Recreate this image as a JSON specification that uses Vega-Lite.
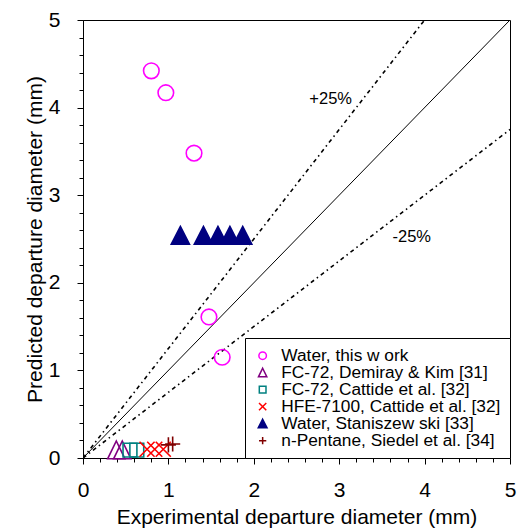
{
  "$schema": "https://vega.github.io/schema/vega-lite/v6.json",
  "autosize": {"type": "none"},
  "width": 427,
  "height": 438,
  "padding": {"left": 83, "top": 20, "right": 10, "bottom": 72},
  "config": {
    "font": "Liberation Sans",
    "view": {"stroke": "black", "strokeWidth": 1},
    "axis": {
      "domainColor": "black",
      "tickColor": "black",
      "labelColor": "black",
      "titleColor": "black",
      "grid": false
    },
    "legend": {
      "orient": "bottom-right",
      "offset": 0,
      "strokeColor": "black",
      "fillColor": "white",
      "padding": 9,
      "labelFont": "Liberation Sans",
      "labelFontSize": 17.3,
      "labelColor": "black",
      "symbolSize": 70,
      "symbolStrokeWidth": 1.5,
      "rowPadding": -1,
      "labelOffset": 10,
      "labelLimit": 400
    }
  },
  "datasets": {
    "pts": [
      {"series": "Water, this w ork", "exp": 0.80, "pred": 4.42},
      {"series": "Water, this w ork", "exp": 0.97, "pred": 4.17},
      {"series": "Water, this w ork", "exp": 1.30, "pred": 3.48},
      {"series": "Water, this w ork", "exp": 1.475, "pred": 1.61},
      {"series": "Water, this w ork", "exp": 1.63, "pred": 1.15},
      {"series": "FC-72, Demiray & Kim [31]", "exp": 0.39, "pred": 0.09},
      {"series": "FC-72, Demiray & Kim [31]", "exp": 0.46, "pred": 0.09},
      {"series": "FC-72, Cattide et al. [32]", "exp": 0.55, "pred": 0.09},
      {"series": "FC-72, Cattide et al. [32]", "exp": 0.63, "pred": 0.09},
      {"series": "HFE-7100, Cattide et al. [32]", "exp": 0.75, "pred": 0.10},
      {"series": "HFE-7100, Cattide et al. [32]", "exp": 0.84, "pred": 0.10},
      {"series": "HFE-7100, Cattide et al. [32]", "exp": 0.94, "pred": 0.10},
      {"series": "Water, Staniszew ski [33]", "exp": 1.14, "pred": 2.54},
      {"series": "Water, Staniszew ski [33]", "exp": 1.41, "pred": 2.54},
      {"series": "Water, Staniszew ski [33]", "exp": 1.58, "pred": 2.54},
      {"series": "Water, Staniszew ski [33]", "exp": 1.72, "pred": 2.54},
      {"series": "Water, Staniszew ski [33]", "exp": 1.87, "pred": 2.54},
      {"series": "n-Pentane, Siedel et al. [34]", "exp": 1.00, "pred": 0.15},
      {"series": "n-Pentane, Siedel et al. [34]", "exp": 1.05, "pred": 0.16}
    ],
    "equal": [
      {"exp": 0, "pred": 0},
      {"exp": 5, "pred": 5}
    ],
    "bands": [
      {"line": "+25%", "exp": 0, "pred": 0},
      {"line": "+25%", "exp": 4, "pred": 5},
      {"line": "-25%", "exp": 0, "pred": 0},
      {"line": "-25%", "exp": 5, "pred": 3.75}
    ],
    "labels": [
      {"text": "+25%", "exp": 2.90, "pred": 4.10},
      {"text": "-25%", "exp": 3.85, "pred": 2.52}
    ]
  },
  "resolve": {"axis": {"x": "independent", "y": "independent"}},
  "layer": [
    {
      "data": {"name": "equal"},
      "mark": {"type": "line", "color": "black", "strokeWidth": 1, "clip": true},
      "encoding": {
        "x": {"field": "exp", "type": "quantitative", "scale": {"domain": [0, 5], "nice": false, "zero": false},
          "axis": {"orient": "bottom", "values": [0, 1, 2, 3, 4, 5], "tickSize": 6, "labelPadding": 15, "title": "Experimental departure diameter (mm)", "titlePadding": 6, "labelFlush": false,
            "labelFont": "Liberation Sans", "labelFontSize": 21, "titleFont": "Liberation Sans", "titleFontSize": 21, "titleFontWeight": "normal"}},
        "y": {"field": "pred", "type": "quantitative", "scale": {"domain": [0, 5], "nice": false, "zero": false},
          "axis": {"orient": "left", "values": [0, 1, 2, 3, 4, 5], "tickSize": 6, "labelPadding": 17, "title": "Predicted departure diameter (mm)", "titlePadding": 3, "labelFlush": false,
            "labelFont": "Liberation Sans", "labelFontSize": 21, "titleFont": "Liberation Sans", "titleFontSize": 21, "titleFontWeight": "normal"}}
      }
    },
    {
      "data": {"name": "bands"},
      "mark": {"type": "line", "color": "black", "strokeWidth": 1.6, "strokeDash": [4, 3.5, 1.5, 3.5], "clip": true},
      "encoding": {
        "x": {"field": "exp", "type": "quantitative", "scale": {"domain": [0, 5], "nice": false, "zero": false},
          "axis": {"orient": "bottom", "values": [0.2, 0.4, 0.6, 0.8, 1.2, 1.4, 1.6, 1.8, 2.2, 2.4, 2.6, 2.8, 3.2, 3.4, 3.6, 3.8, 4.2, 4.4, 4.6, 4.8], "tickSize": 4, "labels": false, "domain": false, "title": null}},
        "y": {"field": "pred", "type": "quantitative", "scale": {"domain": [0, 5], "nice": false, "zero": false},
          "axis": {"orient": "left", "values": [0.2, 0.4, 0.6, 0.8, 1.2, 1.4, 1.6, 1.8, 2.2, 2.4, 2.6, 2.8, 3.2, 3.4, 3.6, 3.8, 4.2, 4.4, 4.6, 4.8], "tickSize": 4, "labels": false, "domain": false, "title": null}},
        "detail": {"field": "line"}
      }
    },
    {
      "data": {"name": "labels"},
      "mark": {"type": "text", "font": "Liberation Sans", "fontSize": 16.5, "color": "black", "align": "center", "baseline": "middle"},
      "encoding": {
        "x": {"field": "exp", "type": "quantitative", "scale": {"domain": [0, 5], "nice": false, "zero": false}, "axis": null},
        "y": {"field": "pred", "type": "quantitative", "scale": {"domain": [0, 5], "nice": false, "zero": false}, "axis": null},
        "text": {"field": "text"}
      }
    },
    {
      "data": {"name": "pts"},
      "mark": {"type": "point", "size": 300, "strokeWidth": 1.6, "opacity": 1, "clip": false},
      "encoding": {
        "x": {"field": "exp", "type": "quantitative", "scale": {"domain": [0, 5], "nice": false, "zero": false}, "axis": null},
        "y": {"field": "pred", "type": "quantitative", "scale": {"domain": [0, 5], "nice": false, "zero": false}, "axis": null},
        "shape": {"field": "series", "type": "nominal",
          "scale": {"domain": ["Water, this w ork", "FC-72, Demiray & Kim [31]", "FC-72, Cattide et al. [32]", "HFE-7100, Cattide et al. [32]", "Water, Staniszew ski [33]", "n-Pentane, Siedel et al. [34]"],
            "range": ["M-0.9,0A0.9,0.9 0 1,0 0.9,0A0.9,0.9 0 1,0 -0.9,0Z", "M0,-1.05L1,1L-1,1Z", "M-0.8,-0.8L0.8,-0.8L0.8,0.8L-0.8,0.8Z", "M-0.87,-0.87L0.87,0.87M-0.87,0.87L0.87,-0.87", "M0,-1.05L1.05,1L-1.05,1Z", "M-0.87,0L0.87,0M0,-0.87L0,0.87"]},
          "legend": {"title": null}},
        "stroke": {"field": "series", "type": "nominal",
          "scale": {"domain": ["Water, this w ork", "FC-72, Demiray & Kim [31]", "FC-72, Cattide et al. [32]", "HFE-7100, Cattide et al. [32]", "Water, Staniszew ski [33]", "n-Pentane, Siedel et al. [34]"],
            "range": ["#FF00FF", "#800080", "#008080", "#FF0000", "#000080", "#800000"]},
          "legend": {"title": null}},
        "fill": {"field": "series", "type": "nominal",
          "scale": {"domain": ["Water, this w ork", "FC-72, Demiray & Kim [31]", "FC-72, Cattide et al. [32]", "HFE-7100, Cattide et al. [32]", "Water, Staniszew ski [33]", "n-Pentane, Siedel et al. [34]"],
            "range": ["transparent", "transparent", "transparent", "transparent", "#000080", "transparent"]},
          "legend": {"title": null}}
      }
    }
  ]
}
